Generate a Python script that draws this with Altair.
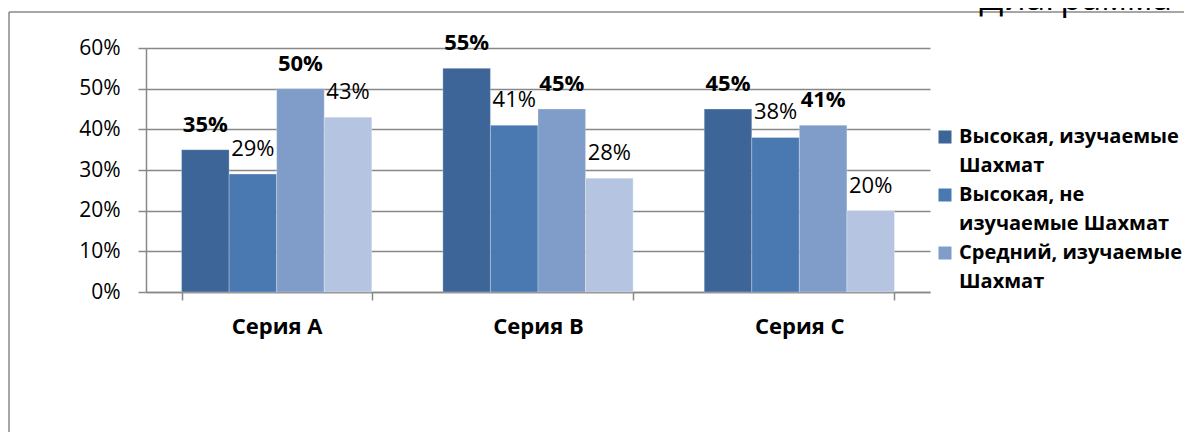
import altair as alt
import pandas as pd

categories = ["Серия A", "Серия B", "Серия C"]
series = [
    "Высокая, изучаемые Шахмат",
    "Высокая, не изучаемые Шахмат",
    "Средний, изучаемые Шахмат",
    "Средний, не изучаемые Шахмат",
]
legend_lines = [
    ["Высокая, изучаемые", "Шахмат"],
    ["Высокая, не", "изучаемые Шахмат"],
    ["Средний, изучаемые", "Шахмат"],
]
values_s1 = [0.35, 0.55, 0.45]
values_s2 = [0.29, 0.41, 0.38]
values_s3 = [0.50, 0.45, 0.41]
values_s4 = [0.43, 0.28, 0.20]
y_ticks = [0.0, 0.1, 0.2, 0.3, 0.4, 0.5, 0.6]
colors = ["#3D6598", "#4A78B0", "#7F9DC8", "#B5C4E0"]
chart_title = "Диаграмма"

FONT = "Open Sans"
GRAY = "#888888"

rows = []
for s, vals in zip(series, [values_s1, values_s2, values_s3, values_s4]):
    for c, v in zip(categories, vals):
        rows.append({"category": c, "series": s, "value": v})
df = pd.DataFrame(rows)

label_expr = " : ".join(
    f"datum.label == '{series[i]}' ? {legend_lines[i]!r}" for i in range(len(legend_lines))
) + " : datum.label"

x_enc = alt.X(
    "category:N",
    sort=categories,
    scale=alt.Scale(paddingInner=0.272, paddingOuter=0.136),
    axis=alt.Axis(
        title=None, tickBand="extent", labelAngle=0, labelFontSize=22,
        labelFontWeight="bold", labelFont=FONT, labelColor="black",
        labelPadding=16, tickSize=8, tickColor=GRAY, tickWidth=1.5,
        domainColor=GRAY, domainWidth=1.5, grid=False,
    ),
)
xoff_enc = alt.XOffset("series:N", sort=series, scale=alt.Scale(paddingInner=0, paddingOuter=0))
y_enc = alt.Y(
    "value:Q",
    scale=alt.Scale(domain=[0, 0.6], nice=False),
    axis=alt.Axis(
        title=None, format=".0%", values=y_ticks, labelFontSize=21,
        labelFont=FONT, labelColor="black", labelPadding=18, tickSize=8,
        tickColor=GRAY, tickWidth=1.5, domainColor=GRAY, domainWidth=1.5,
        grid=True, gridColor=GRAY, gridWidth=1.5,
    ),
)

base = alt.Chart(df)

bars = base.mark_bar(stroke="white", strokeOpacity=0.35, strokeWidth=0.8).encode(
    x=x_enc,
    xOffset=xoff_enc,
    y=y_enc,
    color=alt.Color(
        "series:N",
        sort=series,
        scale=alt.Scale(domain=series, range=colors),
        legend=alt.Legend(
            title=None, orient="none", legendX=789, legendY=79,
            values=series[:3], labelExpr=label_expr, labelFont=FONT,
            labelFontSize=20, labelFontWeight="bold", labelColor="black",
            labelLimit=400, symbolType="square", symbolSize=169,
            symbolStrokeWidth=0, symbolOffset=0, labelOffset=4, rowPadding=9,
            padding=0,
        ),
    ),
)

bold_labels = base.transform_filter(
    alt.FieldOneOfPredicate(field="series", oneOf=[series[0], series[2]])
).mark_text(baseline="alphabetic", dy=-18, fontSize=22, fontWeight="bold", font=FONT, color="black").encode(
    x=x_enc, xOffset=xoff_enc, y=y_enc, text=alt.Text("value:Q", format=".0%")
)
normal_labels = base.transform_filter(
    alt.FieldOneOfPredicate(field="series", oneOf=[series[1], series[3]])
).mark_text(baseline="alphabetic", dy=-18, fontSize=22, fontWeight="normal", font=FONT, color="black").encode(
    x=x_enc, xOffset=xoff_enc, y=y_enc, text=alt.Text("value:Q", format=".0%")
)

one = pd.DataFrame({"t": [chart_title]})
frame_left = alt.Chart(one).mark_rule(color=GRAY, strokeWidth=1.5).encode(
    x=alt.value(-137), y=alt.value(-36), y2=alt.value(430)
)
frame_top = alt.Chart(one).mark_rule(color=GRAY, strokeWidth=1.5).encode(
    x=alt.value(-137), x2=alt.value(1060), y=alt.value(-36)
)
title_text = alt.Chart(one).mark_text(
    align="right", baseline="alphabetic", fontSize=35, font=FONT, color="black"
).encode(x=alt.value(1026), y=alt.value(-38), text="t:N")

chart = alt.layer(
    frame_left, frame_top, title_text, bars, bold_labels, normal_labels
).properties(
    width=784, height=244,
    autosize=alt.AutoSizeParams(type="none"),
    padding={"left": 138, "top": 40, "right": 254, "bottom": 140},
).configure(
    background="white", style={"guide-label": {"lineHeight": 29}}
).configure_view(stroke=None)

chart.save("out.html", embed_options={"renderer": "svg", "actions": False})
